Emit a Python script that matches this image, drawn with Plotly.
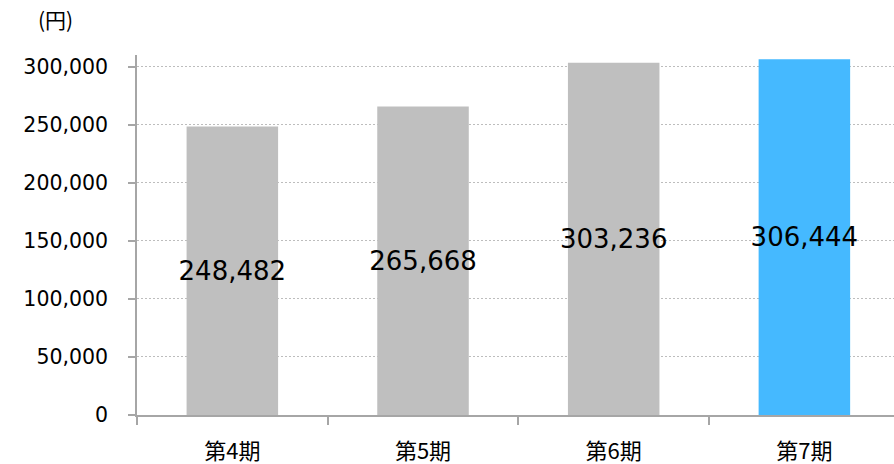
import plotly.graph_objects as go

categories = ["第4期", "第5期", "第6期", "第7期"]
values = [248482, 265668, 303236, 306444]
bar_colors = ["#BFBFBF", "#BFBFBF", "#BFBFBF", "#45B9FF"]
labels = [f"{v:,}" for v in values]
y_ticks = [0, 50000, 100000, 150000, 200000, 250000, 300000]
y_tick_text = [f"{v:,}" for v in y_ticks]

fig = go.Figure()
fig.add_trace(go.Bar(
    x=categories, y=values, marker=dict(color=bar_colors, line=dict(width=0)),
    width=0.48, text=labels, textposition="inside", insidetextanchor="middle",
    textangle=0, constraintext="none", cliponaxis=False,
    textfont=dict(family="DejaVu Sans", size=26, color="#000000"),
    hoverinfo="skip",
))

fig.update_layout(
    width=894, height=464,
    margin=dict(l=137, r=0, t=55, b=49),
    paper_bgcolor="white", plot_bgcolor="white",
    showlegend=False,
    font=dict(family="DejaVu Sans", color="#000000"),
    xaxis=dict(
        range=[-0.5, 3.47], tickson="boundaries", ticks="outside", ticklen=8,
        tickcolor="#A6A6A6", tickwidth=1.5, showline=True, linecolor="#A6A6A6",
        linewidth=1.5, showgrid=False, ticklabelstandoff=16, automargin=False,
        tickfont=dict(family="Noto Sans CJK JP", size=22, color="#000000"),
    ),
    yaxis=dict(
        range=[0, 310000], tickvals=y_ticks, ticktext=y_tick_text,
        ticks="outside", ticklen=7, tickcolor="#A6A6A6", tickwidth=1.5,
        showline=True, linecolor="#A6A6A6", linewidth=1.5,
        showgrid=True, gridcolor="#BDBDBD", griddash="2px,2px", gridwidth=1,
        zeroline=False, ticklabelstandoff=16, automargin=False,
        tickfont=dict(family="DejaVu Sans", size=20.5, color="#000000"),
    ),
    annotations=[dict(
        text="(円)", xref="paper", yref="paper", x=-0.108, y=1.1,
        xanchor="center", yanchor="middle", showarrow=False,
        font=dict(family="Noto Sans CJK JP", size=21, color="#000000"),
    )],
)

fig.write_html("out.html")
